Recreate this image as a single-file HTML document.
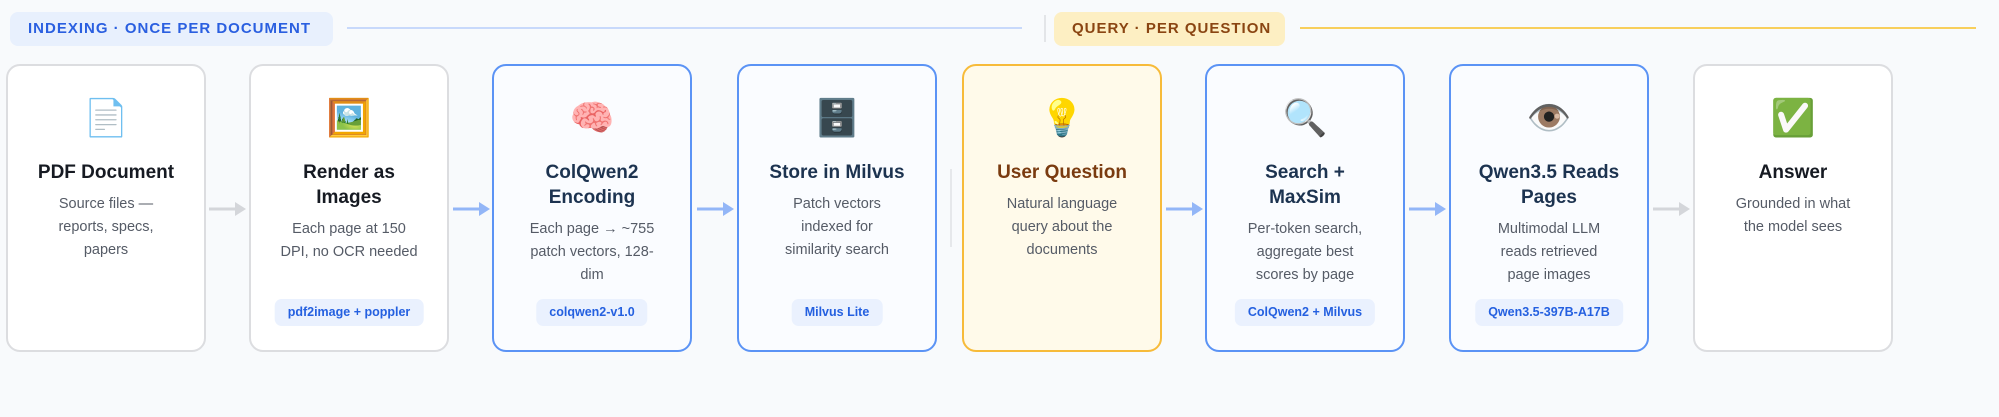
<!DOCTYPE html>
<html><head><meta charset="utf-8"><style>
*{margin:0;padding:0;box-sizing:border-box}
html,body{width:1999px;height:417px;background:#f8fafc;overflow:hidden;font-family:"Liberation Sans","Noto Sans CJK SC",sans-serif;position:relative}
.pill{position:absolute;top:12px;height:34px;border-radius:8px;font-weight:bold;font-size:15px;letter-spacing:1px;line-height:34px;padding-left:18px}
.line{position:absolute;top:27px;height:2px}
.card{position:absolute;top:64px;width:200px;height:288px;border-radius:14px;border:2px solid #dcdde0;background:#fff;text-align:center;padding-top:30px}
.card.b{border-color:#5b93f5;background:#fafcff}
.card.y{border-color:#f7bb3a;background:#fffaea}
.em{font-size:36px;line-height:44px;height:44px;margin-bottom:20px}
.t{font-size:19px;font-weight:bold;line-height:25px;color:#161a22;margin-bottom:8px;white-space:nowrap}
.b .t{color:#1c3350}
.y .t{color:#7a3b10}
.d{font-size:14.5px;line-height:23px;color:#555b66;white-space:nowrap}
.bd{position:absolute;bottom:24px;left:50%;transform:translateX(-50%);height:27px;line-height:27px;padding:0 13px;border-radius:7px;background:#eaf1fe;color:#2460e0;font-weight:bold;font-size:12.5px;white-space:nowrap}
.ar{position:absolute;top:202px}
</style></head><body>
<div class="pill" style="left:10px;width:323px;background:#e8f0fd;color:#2a5fe0">INDEXING · ONCE PER DOCUMENT</div>
<div class="line" style="left:347px;width:675px;background:#c8d9fb"></div>
<div style="position:absolute;left:1044px;top:15px;width:2px;height:27px;background:#e3e5e8"></div>
<div class="pill" style="left:1054px;width:231px;background:#fdefc3;color:#8a4512">QUERY · PER QUESTION</div>
<div class="line" style="left:1300px;width:676px;background:#f8cf5c"></div>
<div style="position:absolute;left:950px;top:169px;width:2px;height:78px;background:#e6e8eb"></div>

<div class="card" style="left:6px"><div class="em">📄</div><div class="t">PDF Document</div><div class="d">Source files —<br>reports, specs,<br>papers</div></div>
<div class="card" style="left:249px"><div class="em">🖼️</div><div class="t">Render as<br>Images</div><div class="d">Each page at 150<br>DPI, no OCR needed</div><div class="bd">pdf2image + poppler</div></div>
<div class="card b" style="left:492px"><div class="em">🧠</div><div class="t">ColQwen2<br>Encoding</div><div class="d">Each page → ~755<br>patch vectors, 128-<br>dim</div><div class="bd">colqwen2-v1.0</div></div>
<div class="card b" style="left:737px"><div class="em">🗄️</div><div class="t">Store in Milvus</div><div class="d">Patch vectors<br>indexed for<br>similarity search</div><div class="bd">Milvus Lite</div></div>
<div class="card y" style="left:962px"><div class="em">💡</div><div class="t">User Question</div><div class="d">Natural language<br>query about the<br>documents</div></div>
<div class="card b" style="left:1205px"><div class="em">🔍</div><div class="t">Search +<br>MaxSim</div><div class="d">Per-token search,<br>aggregate best<br>scores by page</div><div class="bd">ColQwen2 + Milvus</div></div>
<div class="card b" style="left:1449px"><div class="em">👁️</div><div class="t">Qwen3.5 Reads<br>Pages</div><div class="d">Multimodal LLM<br>reads retrieved<br>page images</div><div class="bd">Qwen3.5-397B-A17B</div></div>
<div class="card" style="left:1693px"><div class="em">✅</div><div class="t">Answer</div><div class="d">Grounded in what<br>the model sees</div></div>

<svg class="ar" style="left:209px" width="38" height="14"><line x1="0" y1="7" x2="28" y2="7" stroke="#d4d6da" stroke-width="3"/><polygon points="26,0 37,7 26,14" fill="#d4d6da"/></svg>
<svg class="ar" style="left:453px" width="38" height="14"><line x1="0" y1="7" x2="28" y2="7" stroke="#93b6f7" stroke-width="3"/><polygon points="26,0 37,7 26,14" fill="#93b6f7"/></svg>
<svg class="ar" style="left:697px" width="38" height="14"><line x1="0" y1="7" x2="28" y2="7" stroke="#93b6f7" stroke-width="3"/><polygon points="26,0 37,7 26,14" fill="#93b6f7"/></svg>
<svg class="ar" style="left:1166px" width="38" height="14"><line x1="0" y1="7" x2="28" y2="7" stroke="#93b6f7" stroke-width="3"/><polygon points="26,0 37,7 26,14" fill="#93b6f7"/></svg>
<svg class="ar" style="left:1409px" width="38" height="14"><line x1="0" y1="7" x2="28" y2="7" stroke="#93b6f7" stroke-width="3"/><polygon points="26,0 37,7 26,14" fill="#93b6f7"/></svg>
<svg class="ar" style="left:1653px" width="38" height="14"><line x1="0" y1="7" x2="28" y2="7" stroke="#d4d6da" stroke-width="3"/><polygon points="26,0 37,7 26,14" fill="#d4d6da"/></svg>
</body></html>
